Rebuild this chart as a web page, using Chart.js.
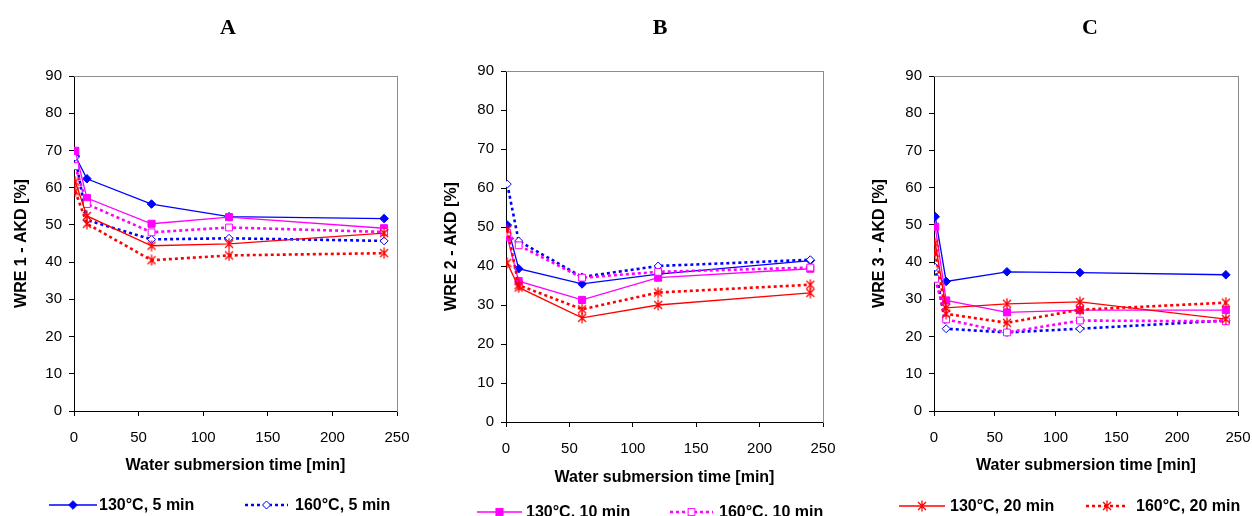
<!DOCTYPE html>
<html><head><meta charset="utf-8">
<script src="https://cdn.jsdelivr.net/npm/chart.js@4.4.1/dist/chart.umd.min.js"></script>
<style>
html,body{margin:0;padding:0;background:#fff;overflow:hidden;width:1252px;height:516px;position:relative;}
canvas{position:absolute;top:0;}
.leg{position:absolute;height:16px;display:flex;align-items:center;font:bold 16px "Liberation Sans",Arial,sans-serif;color:#000;white-space:nowrap;}
.leg svg{display:block;}
</style></head><body>
<canvas id="cA" width="456" height="516" style="left:0px"></canvas>
<canvas id="cB" width="460" height="516" style="left:430px"></canvas>
<canvas id="cC" width="464" height="516" style="left:858px"></canvas>
<div id="legends"></div>
<script>
// ---- data ----
const times = [1, 10, 60, 120, 240];
const seriesLabels = ['130°C, 5 min', '160°C, 5 min', '130°C, 10 min', '160°C, 10 min', '130°C, 20 min', '160°C, 20 min'];
const panelTitles = ['A', 'B', 'C'];
const yTitles = ['WRE 1 - AKD [%]', 'WRE 2 - AKD [%]', 'WRE 3 - AKD [%]'];
const xTitle = 'Water submersion time [min]';

const a130_5  = [68.5, 62.4, 55.6, 52.2, 51.7];
const a160_5  = [68.2, 51.3, 46.1, 46.4, 45.7];
const a130_10 = [69.9, 57.2, 50.3, 52.1, 49.1];
const a160_10 = [65.8, 55.6, 48.0, 49.3, 48.1];
const a130_20 = [61.6, 52.4, 44.4, 44.9, 47.8];
const a160_20 = [59.0, 50.3, 40.5, 41.8, 42.4];

const b130_5  = [50.5, 39.3, 35.4, 37.9, 41.4];
const b160_5  = [61.0, 46.4, 37.2, 40.0, 41.6];
const b130_10 = [47.4, 36.1, 31.3, 37.0, 39.3];
const b160_10 = [48.5, 45.3, 37.0, 38.5, 39.6];
const b130_20 = [40.8, 34.5, 26.7, 30.0, 33.1];
const b160_20 = [49.3, 35.1, 28.9, 33.2, 35.2];

const c130_5  = [52.2, 34.8, 37.4, 37.2, 36.6];
const c160_5  = [38.6, 22.1, 21.1, 22.1, 24.3];
const c130_10 = [49.5, 29.7, 26.5, 27.1, 27.1];
const c160_10 = [35.5, 24.6, 21.1, 24.3, 24.1];
const c130_20 = [45.1, 27.7, 28.8, 29.3, 24.7];
const c160_20 = [42.5, 26.1, 23.7, 27.2, 29.1];

const panelData = [
  [a130_5, a160_5, a130_10, a160_10, a130_20, a160_20],
  [b130_5, b160_5, b130_10, b160_10, b130_20, b160_20],
  [c130_5, c160_5, c130_10, c160_10, c130_20, c160_20]
];

// ---- styles ----
const BLUE = '#0000FF', MAG = '#FF00FF', RED = '#FF0000';
function makeStar(color, size) {
  const c = document.createElement('canvas');
  c.width = size; c.height = size;
  const g = c.getContext('2d');
  g.strokeStyle = color; g.lineWidth = 1.3;
  const m = size / 2, r = size / 2 - 0.5, d = r * 0.72;
  g.beginPath();
  g.moveTo(m, m - r); g.lineTo(m, m + r);
  g.moveTo(m - d, m - d); g.lineTo(m + d, m + d);
  g.moveTo(m - d, m + d); g.lineTo(m + d, m - d);
  g.stroke();
  return c;
}
const starImg = makeStar(RED, 12);
const styles = [
  {color: BLUE, dash: [], width: 1.3, point: 'rectRot', radius: 4.3, fill: BLUE},
  {color: BLUE, dash: [3, 3], width: 2.6, point: 'rectRot', radius: 4, fill: '#FFFFFF'},
  {color: MAG, dash: [], width: 1.3, point: 'rect', radius: 5, fill: MAG},
  {color: MAG, dash: [3, 3], width: 2.6, point: 'rect', radius: 4.8, fill: '#FFFFFF'},
  {color: RED, dash: [], width: 1.3, point: starImg, radius: 6, fill: RED},
  {color: RED, dash: [3, 3], width: 2.6, point: starImg, radius: 6, fill: RED}
];

// ---- layout ----
const H = 516;
const panels = [
  {id: 'cA', left: 0,   width: 456, plotLeft: 74,  plotRight: 397,  plotTop: 76, plotBottom: 411, xTitleY: 466},
  {id: 'cB', left: 430, width: 460, plotLeft: 506, plotRight: 823,  plotTop: 71, plotBottom: 422, xTitleY: 478},
  {id: 'cC', left: 858, width: 464, plotLeft: 934, plotRight: 1238, plotTop: 76, plotBottom: 411, xTitleY: 466}
];

const frameTop = {
  id: 'frameTop',
  afterDraw(chart) {
    const {ctx, chartArea: a} = chart;
    ctx.save();
    ctx.strokeStyle = '#8c8c8c'; ctx.lineWidth = 1;
    ctx.beginPath(); ctx.moveTo(a.left, a.top + 0.5); ctx.lineTo(a.right, a.top + 0.5); ctx.stroke();
    ctx.restore();
  }
};

const tickFont = {family: '"Liberation Sans", Arial, sans-serif', size: 15};
const titleFont = {family: '"Liberation Sans", Arial, sans-serif', size: 16, weight: 'bold'};

panels.forEach((p, pi) => {
  const yW = p.plotLeft - p.left;
  const rW = p.left + p.width - p.plotRight;
  const xH = p.xTitleY + 9.6 - p.plotBottom;
  const datasets = panelData[pi].map((vals, si) => {
    const s = styles[si];
    return {
      label: seriesLabels[si],
      data: times.map((t, i) => ({x: t, y: vals[i]})),
      borderColor: s.color,
      backgroundColor: s.color,
      borderWidth: s.width,
      borderDash: s.dash,
      tension: 0,
      pointStyle: s.point,
      pointRadius: s.radius,
      pointBackgroundColor: s.fill,
      pointBorderColor: s.color,
      pointBorderWidth: 1,
      order: 6 - si
    };
  });
  new Chart(document.getElementById(p.id), {
    type: 'line',
    data: {datasets},
    options: {
      responsive: false,
      animation: false,
      devicePixelRatio: 1,
      layout: {padding: {left: 0, right: 0, top: 0, bottom: H - p.plotBottom - xH}},
      plugins: {
        legend: {display: false},
        tooltip: {enabled: false},
        title: {
          display: true, text: panelTitles[pi], color: '#000',
          font: {family: '"Liberation Serif", "Times New Roman", serif', size: 22, weight: 'bold'},
          padding: {top: 15, bottom: p.plotTop - 15 - 26.4}
        }
      },
      scales: {
        x: {
          type: 'linear', position: 'bottom', min: 0, max: 250,
          ticks: {stepSize: 50, color: '#000', font: tickFont, padding: 13, maxRotation: 0},
          grid: {display: true, drawOnChartArea: false, drawTicks: true, tickLength: 5, color: '#000'},
          border: {display: true, color: '#000', width: 1},
          title: {display: true, text: xTitle, color: '#000', font: titleFont, padding: 0},
          afterFit: s => { s.height = xH; }
        },
        y: {
          type: 'linear', position: 'left', min: 0, max: 90,
          ticks: {stepSize: 10, color: '#000', font: tickFont, padding: 7},
          grid: {display: true, drawOnChartArea: false, drawTicks: true, tickLength: 5, color: '#000'},
          border: {display: true, color: '#000', width: 1},
          title: {display: true, text: yTitles[pi], color: '#000', font: titleFont, padding: {top: 12.4, bottom: 0}},
          afterFit: s => { s.width = yW; }
        },
        yR: {
          type: 'linear', position: 'right', display: true,
          ticks: {display: false},
          grid: {display: false, drawOnChartArea: false, drawTicks: false},
          border: {display: true, color: '#8c8c8c', width: 1},
          afterFit: s => { s.width = rW; }
        }
      }
    },
    plugins: [frameTop]
  });
});

// ---- legends (two entries under each panel) ----
const legendPos = [
  {x0: 49, x1: 97, tx: 99, y: 505},  {x0: 245, x1: 288, tx: 295, y: 505},
  {x0: 477, x1: 522, tx: 526, y: 512}, {x0: 670, x1: 713, tx: 719, y: 512},
  {x0: 899, x1: 945, tx: 950, y: 506}, {x0: 1086, x1: 1128, tx: 1136, y: 506}
];
const legendsEl = document.getElementById('legends');
seriesLabels.forEach((lab, si) => {
  const s = styles[si], lp = legendPos[si];
  const L = lp.x1 - lp.x0, m = L / 2;
  let marker = '';
  if (s.point === 'rectRot') {
    const r = s.radius;
    marker = `<polygon points="${m},${8 - r} ${m + r},8 ${m},${8 + r} ${m - r},8" fill="${s.fill}" stroke="${s.color}" stroke-width="1"/>`;
  } else if (s.point === 'rect') {
    const h = s.radius * Math.SQRT1_2;
    marker = `<rect x="${m - h}" y="${8 - h}" width="${2 * h}" height="${2 * h}" fill="${s.fill}" stroke="${s.color}" stroke-width="1"/>`;
  } else {
    const r = 5.5, d = r * 0.72;
    marker = `<path d="M${m},${8 - r}L${m},${8 + r}M${m - d},${8 - d}L${m + d},${8 + d}M${m - d},${8 + d}L${m + d},${8 - d}" stroke="${s.color}" stroke-width="1.3" fill="none"/>`;
  }
  const dash = s.dash.length ? `stroke-dasharray="${s.dash.join(',')}"` : '';
  const svg = `<svg width="${L}" height="16" style="position:absolute;left:${lp.x0}px;top:${lp.y - 8}px;overflow:visible">` +
    `<line x1="0" y1="8" x2="${L}" y2="8" stroke="${s.color}" stroke-width="${s.dash.length ? 2.6 : 1.3}" ${dash}/>` + marker + `</svg>`;
  const div = document.createElement('div');
  div.innerHTML = svg;
  legendsEl.appendChild(div.firstChild);
  const t = document.createElement('div');
  t.className = 'leg';
  t.style.left = lp.tx + 'px';
  t.style.top = (lp.y - 8) + 'px';
  t.textContent = lab;
  legendsEl.appendChild(t);
});
</script>
</body></html>
